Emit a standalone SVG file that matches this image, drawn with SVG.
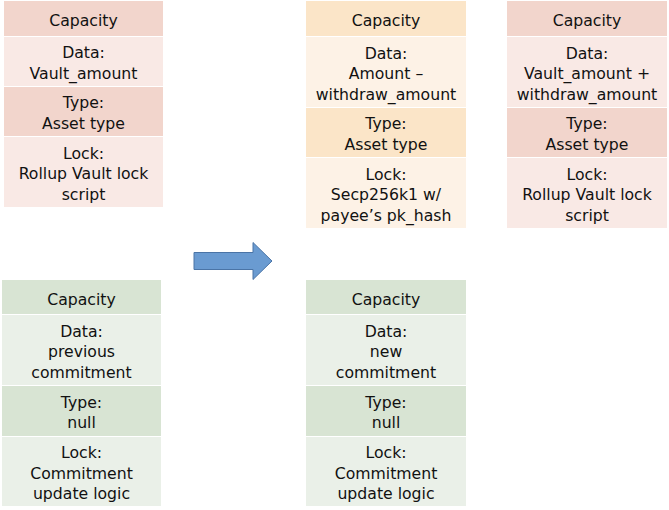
<svg xmlns="http://www.w3.org/2000/svg" width="669" height="510" viewBox="0 0 669 510">
<style>
text{font-family:"DejaVu Sans","Liberation Sans",sans-serif;font-size:15.7px;fill:#111;text-anchor:middle}
.rh{fill:#F2D5CC}.rl{fill:#F9E9E5}
.oh{fill:#FBE5C8}.ol{fill:#FDF2E6}
.gh{fill:#D8E4D3}.gl{fill:#EAF0E8}
.arrow{fill:#6A9BD1;stroke:#4A74A6;stroke-width:1}
</style>
<rect width="669" height="510" fill="#fff"/>
<g id="cell-vault-in">
<rect class="rh" x="4" y="1" width="159" height="35"/>
<rect class="rl" x="4" y="37" width="159" height="49"/>
<rect class="rh" x="4" y="87" width="159" height="49"/>
<rect class="rl" x="4" y="137" width="159" height="70"/>
<text x="83.5" y="26">Capacity</text>
<text x="83.5" y="58.3">Data:</text>
<text x="83.5" y="78.8">Vault_amount</text>
<text x="83.5" y="108.3">Type:</text>
<text x="83.5" y="128.8">Asset type</text>
<text x="83.5" y="158.5">Lock:</text>
<text x="83.5" y="179">Rollup Vault lock</text>
<text x="83.5" y="199.5">script</text>
</g>
<g id="cell-payee-out">
<rect class="oh" x="306" y="1" width="160" height="35"/>
<rect class="ol" x="306" y="37" width="160" height="70"/>
<rect class="oh" x="306" y="108" width="160" height="49"/>
<rect class="ol" x="306" y="158" width="160" height="70"/>
<text x="386" y="26">Capacity</text>
<text x="386" y="58.5">Data:</text>
<text x="386" y="79">Amount –</text>
<text x="386" y="99.5">withdraw_amount</text>
<text x="386" y="129.3">Type:</text>
<text x="386" y="149.8">Asset type</text>
<text x="386" y="179.5">Lock:</text>
<text x="386" y="200">Secp256k1 w/</text>
<text x="386" y="220.5">payee’s pk_hash</text>
</g>
<g id="cell-vault-out">
<rect class="rh" x="507" y="1" width="160" height="35"/>
<rect class="rl" x="507" y="37" width="160" height="70"/>
<rect class="rh" x="507" y="108" width="160" height="49"/>
<rect class="rl" x="507" y="158" width="160" height="70"/>
<text x="587" y="26">Capacity</text>
<text x="587" y="58.5">Data:</text>
<text x="587" y="79">Vault_amount +</text>
<text x="587" y="99.5">withdraw_amount</text>
<text x="587" y="129.3">Type:</text>
<text x="587" y="149.8">Asset type</text>
<text x="587" y="179.5">Lock:</text>
<text x="587" y="200">Rollup Vault lock</text>
<text x="587" y="220.5">script</text>
</g>
<g id="cell-commit-in">
<rect class="gh" x="2" y="280" width="159" height="34"/>
<rect class="gl" x="2" y="315" width="159" height="70"/>
<rect class="gh" x="2" y="386" width="159" height="50"/>
<rect class="gl" x="2" y="437" width="159" height="69"/>
<text x="81.5" y="304.5">Capacity</text>
<text x="81.5" y="336.5">Data:</text>
<text x="81.5" y="357">previous</text>
<text x="81.5" y="377.5">commitment</text>
<text x="81.5" y="407.8">Type:</text>
<text x="81.5" y="428.3">null</text>
<text x="81.5" y="458">Lock:</text>
<text x="81.5" y="478.5">Commitment</text>
<text x="81.5" y="499">update logic</text>
</g>
<g id="cell-commit-out">
<rect class="gh" x="306" y="280" width="160" height="34"/>
<rect class="gl" x="306" y="315" width="160" height="70"/>
<rect class="gh" x="306" y="386" width="160" height="50"/>
<rect class="gl" x="306" y="437" width="160" height="69"/>
<text x="386" y="304.5">Capacity</text>
<text x="386" y="336.5">Data:</text>
<text x="386" y="357">new</text>
<text x="386" y="377.5">commitment</text>
<text x="386" y="407.8">Type:</text>
<text x="386" y="428.3">null</text>
<text x="386" y="458">Lock:</text>
<text x="386" y="478.5">Commitment</text>
<text x="386" y="499">update logic</text>
</g>
<g id="connectors">
<path class="arrow" d="M194,252.5 H253 V242.5 L272,261 L253,279.5 V269.5 H194 Z"/>
</g>
</svg>
